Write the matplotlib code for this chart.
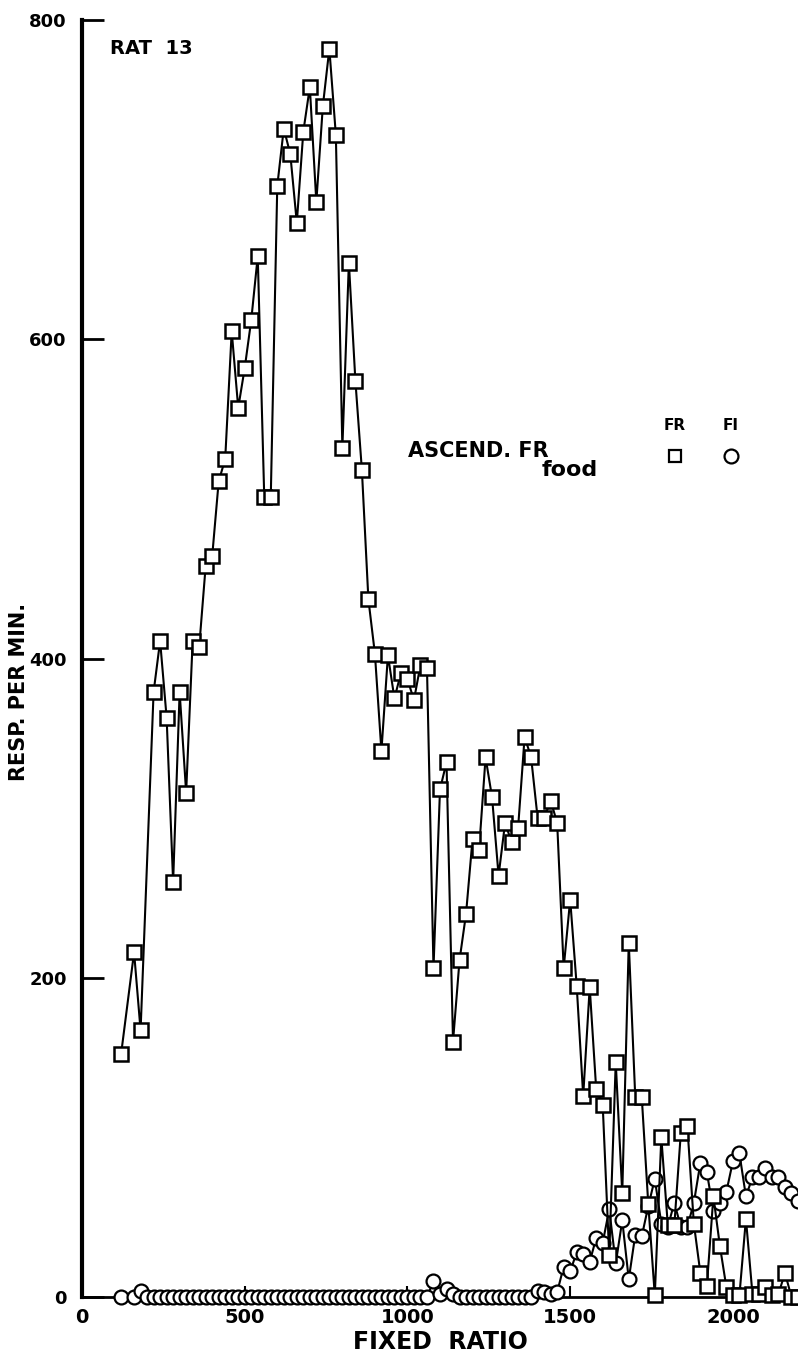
import matplotlib
matplotlib.use("Agg")
import matplotlib.pyplot as plt

# --- data: fixed ratio vs responses per minute ---
fr_ratio = [120, 160, 180, 220, 240, 260, 280, 300, 320, 340, 360, 380, 400, 420,
            440, 460, 480, 500, 520, 540, 560, 580, 600, 620, 640, 660, 680, 700,
            720, 740, 760, 780, 800, 820, 840, 860, 880, 900, 920, 940, 960, 980,
            1000, 1020, 1040, 1060, 1080, 1100, 1120, 1140, 1160, 1180, 1200, 1220,
            1240, 1260, 1280, 1300, 1320, 1340, 1360, 1380, 1400, 1420, 1440, 1460,
            1480, 1500, 1520, 1540, 1560, 1580, 1600, 1620, 1640, 1660, 1680, 1700,
            1720, 1740, 1760, 1780, 1800, 1820, 1840, 1860, 1880, 1900, 1920, 1940,
            1960, 1980, 2000, 2020, 2040, 2060, 2080, 2100, 2120, 2140, 2160, 2180, 2200]
fr_resp = [152, 216, 167, 379, 411, 363, 260, 379, 316, 411, 407, 458, 464, 511,
           525, 605, 557, 582, 612, 652, 501, 501, 696, 732, 716, 673, 730, 758,
           686, 746, 782, 728, 532, 648, 574, 518, 437, 403, 342, 402, 375, 391,
           387, 374, 396, 394, 206, 318, 335, 160, 211, 240, 287, 280,
           338, 313, 264, 297, 285, 294, 351, 338, 300, 300, 311, 297,
           206, 249, 195, 126, 194, 130, 120, 26, 147, 65, 222, 125,
           125, 58, 1, 100, 45, 45, 103, 107, 46, 15, 7, 63,
           32, 6, 1, 1, 49, 2, 2, 6, 1, 2, 15, 0, 0]

fi_ratio = [120, 160, 180, 200, 220, 240, 260, 280, 300, 320, 340, 360, 380, 400,
            420, 440, 460, 480, 500, 520, 540, 560, 580, 600, 620, 640, 660, 680,
            700, 720, 740, 760, 780, 800, 820, 840, 860, 880, 900, 920, 940, 960,
            980, 1000, 1020, 1040, 1060, 1080, 1100, 1120, 1140, 1160, 1180, 1200,
            1220, 1240, 1260, 1280, 1300, 1320, 1340, 1360, 1380, 1400, 1420, 1440,
            1460, 1480, 1500, 1520, 1540, 1560, 1580, 1600, 1620, 1640, 1660, 1680,
            1700, 1720, 1740, 1760, 1780, 1800, 1820, 1840, 1860, 1880, 1900, 1920,
            1940, 1960, 1980, 2000, 2020, 2040, 2060, 2080, 2100, 2120, 2140, 2160,
            2180, 2200]
fi_resp = [0, 0, 4, 0, 0, 0, 0, 0, 0, 0, 0, 0, 0, 0,
           0, 0, 0, 0, 0, 0, 0, 0, 0, 0, 0, 0, 0, 0,
           0, 0, 0, 0, 0, 0, 0, 0, 0, 0, 0, 0, 0, 0,
           0, 0, 0, 0, 0, 10, 2, 5, 2, 0, 0, 0,
           0, 0, 0, 0, 0, 0, 0, 0, 0, 4, 3, 2,
           3, 19, 16, 28, 27, 22, 37, 34, 55, 21, 48, 11,
           39, 38, 57, 74, 46, 44, 59, 44, 44, 59, 84, 78,
           54, 59, 66, 85, 90, 63, 75, 75, 81, 75, 75, 69,
           65, 60]

x_ticks = [0, 500, 1000, 1500, 2000]
y_ticks = [0, 200, 400, 600, 800]

# --- figure ---
fig = plt.figure(figsize=(7.98, 13.62), dpi=100)
ax = fig.add_axes([82 / 798, 65 / 1362, 1 - 82 / 798, 1277 / 1362])

ax.plot(fi_ratio, fi_resp, color="black", lw=1.5, marker="o", ms=10,
        mfc="white", mec="black", mew=1.6, clip_on=False, zorder=3)
ax.plot(fr_ratio, fr_resp, color="black", lw=1.5, marker="s", ms=9.5,
        mfc="white", mec="black", mew=1.8, clip_on=False, zorder=4)

ax.set_xlim(0, 2200)
ax.set_ylim(0, 800)
ax.spines["top"].set_visible(False)
ax.spines["right"].set_visible(False)
ax.spines["left"].set_linewidth(3)
ax.spines["bottom"].set_linewidth(2)

ax.set_xticks(x_ticks)
ax.set_yticks(y_ticks)
ax.tick_params(axis="y", direction="in", length=16, width=2, pad=11,
               labelsize=13)
ax.tick_params(axis="x", direction="in", length=8, width=1.5, pad=8,
               labelsize=14)
for lab in ax.get_xticklabels() + ax.get_yticklabels():
    lab.set_fontweight("bold")

# y label placed by hand so it sits left of the tick labels like the original
fig.text(19 / 798, 1 - 692 / 1362, "RESP. PER MIN.", rotation=90,
         fontsize=15, fontweight="bold", ha="center", va="center")
ax.set_xlabel("FIXED  RATIO", fontsize=17, fontweight="bold", labelpad=2)

# annotations
ax.text(86, 782, "RAT  13", fontsize=14, fontweight="bold", va="center")
ax.text(1001, 530, "ASCEND. FR", fontsize=15, fontweight="bold", va="center")
ax.text(1413, 518, "food", fontsize=16, fontweight="bold", va="center")
ax.text(1822, 546, "FR", fontsize=11, fontweight="bold", ha="center", va="center")
ax.text(1994, 546, "FI", fontsize=11, fontweight="bold", ha="center", va="center")
ax.plot([1822], [527], marker="s", ms=9, mfc="white", mec="black", mew=1.6)
ax.plot([1994], [527], marker="o", ms=10, mfc="white", mec="black", mew=1.6)

fig.savefig("out.png", dpi=100)
